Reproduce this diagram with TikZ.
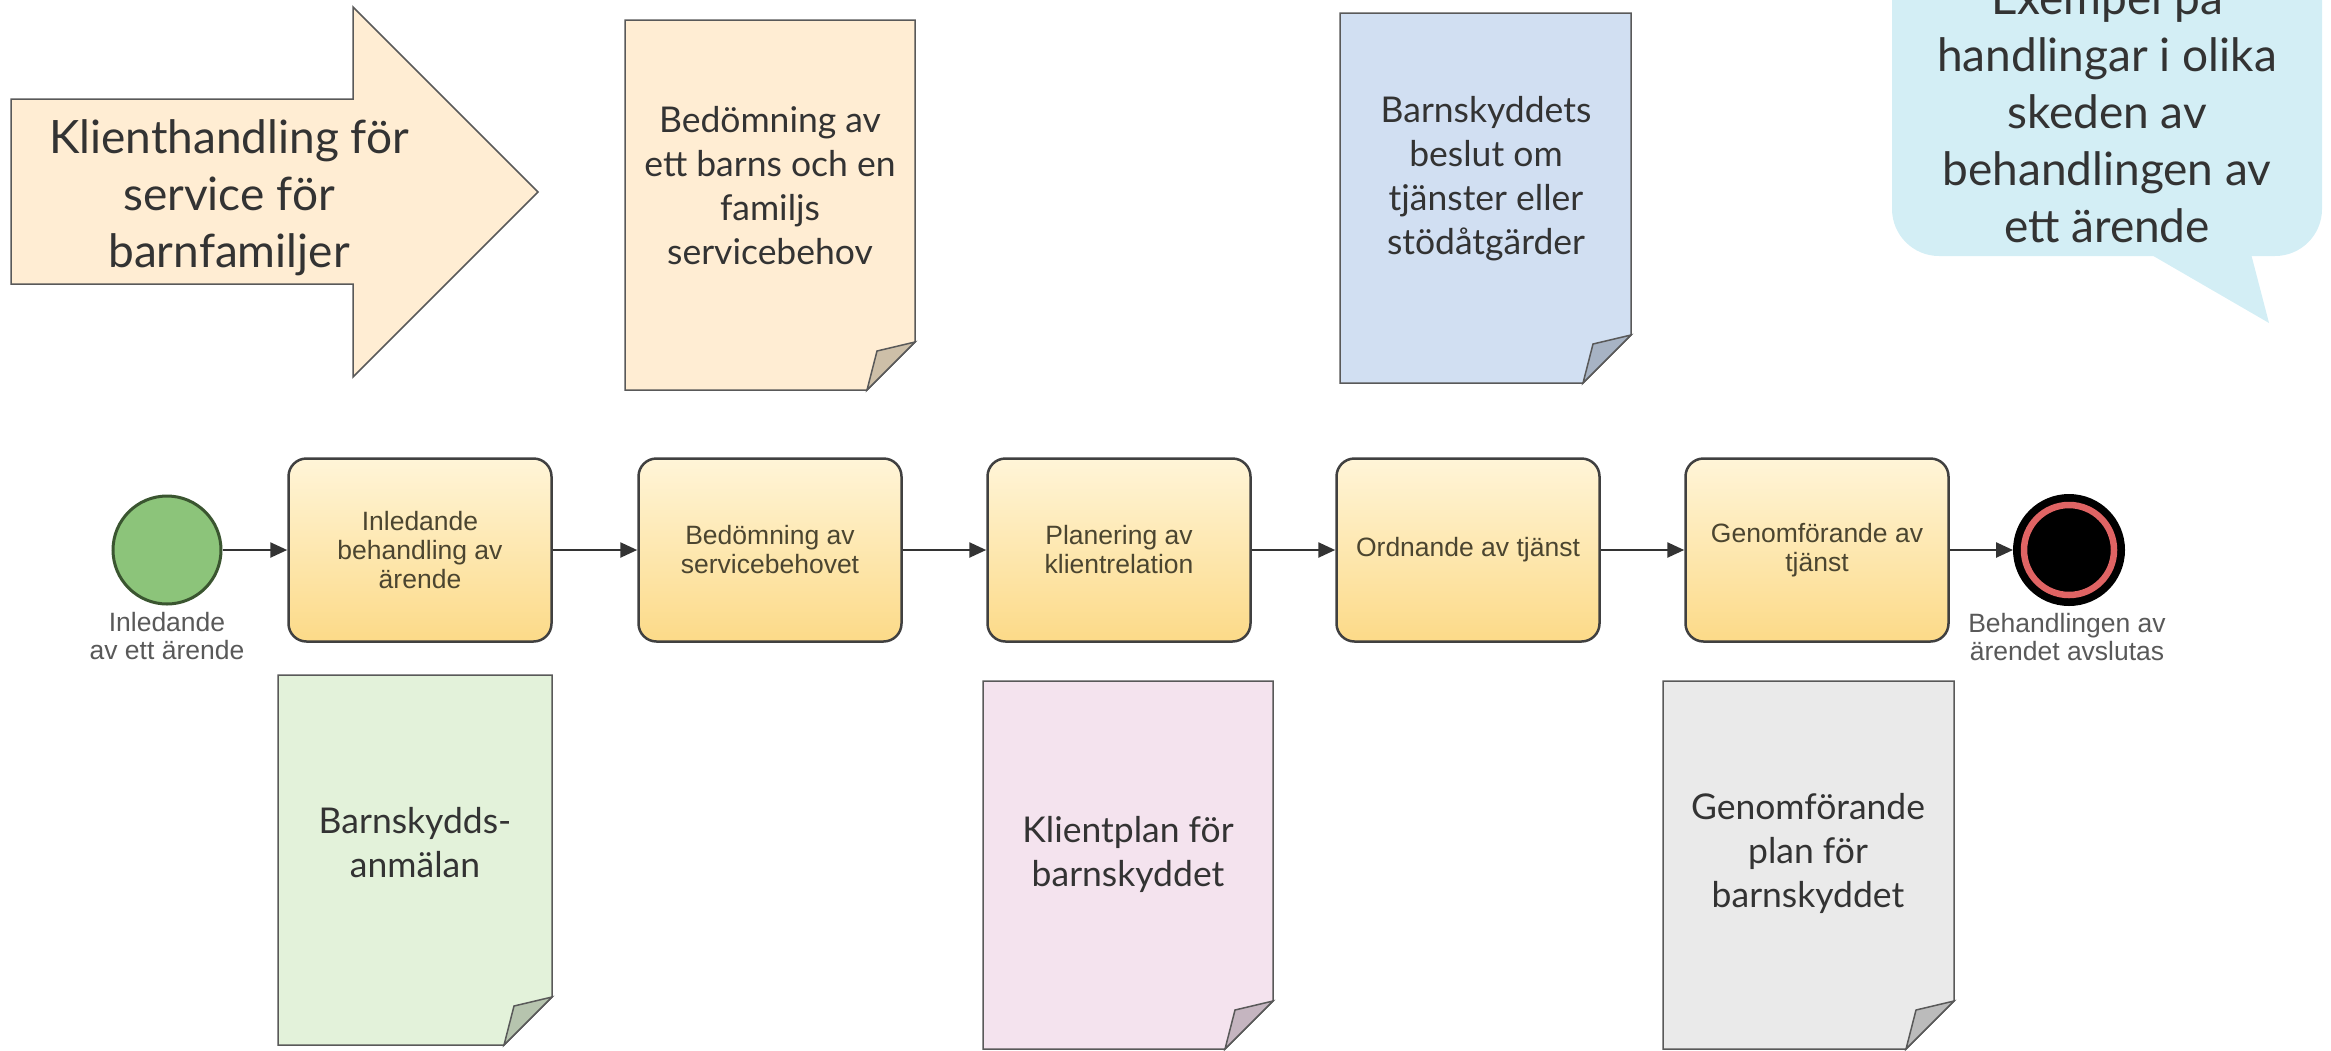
\documentclass[tikz,border=0pt]{standalone}
\usepackage{fontspec}
\setmainfont{Lato}
\newfontfamily\arialfont{Liberation Sans}
\usetikzlibrary{arrows.meta,shapes.geometric}
\definecolor{peach}{HTML}{FFEDD3}
\definecolor{peachfold}{HTML}{CDBFA8}
\definecolor{bluedoc}{HTML}{D1DFF2}
\definecolor{bluefold}{HTML}{A7B3C4}
\definecolor{greendoc}{HTML}{E3F2DA}
\definecolor{greenfold}{HTML}{B6C4AE}
\definecolor{pinkdoc}{HTML}{F4E3EE}
\definecolor{pinkfold}{HTML}{C5B5C0}
\definecolor{graydoc}{HTML}{EAEAEA}
\definecolor{grayfold}{HTML}{BBBBBB}
\definecolor{callout}{HTML}{D3EEF5}
\definecolor{boxtop}{HTML}{FFF5D8}
\definecolor{boxbot}{HTML}{FCDA88}
\definecolor{boxtext}{HTML}{4B4530}
\definecolor{txt}{HTML}{333333}
\definecolor{startgreen}{HTML}{8CC47A}
\definecolor{startdark}{HTML}{3A5530}
\definecolor{endred}{HTML}{E06464}
\newcommand{\mydoc}[6]{%
  \draw[docline, fill=#5] (#1,#2) -- (#3,#2) -- (#3,#4-48) -- (#3-48,#4) -- (#1,#4) -- cycle;
  \draw[docline, fill=#6] (#3,#4-48) -- (#3-38,#4-39) -- (#3-48,#4) -- cycle;
}
\begin{document}
\begin{tikzpicture}[x=1pt,y=-1pt,
  docline/.style={draw=black!65, line width=1.5pt, line join=miter},
  doctxt/.style={font=\fontsize{35.5}{44}\selectfont, text=txt, align=center, inner sep=0pt},
  bigtxt/.style={font=\fontsize{46}{57}\selectfont, text=txt, align=center, inner sep=0pt},
  procbox/.style={draw=black!75, line width=2.5pt, rounded corners=18pt,
    minimum width=263pt, minimum height=183pt, top color=boxtop, bottom color=boxbot,
    align=center, font=\arialfont\fontsize{26.5}{29}\selectfont, text=boxtext, inner sep=0pt},
  lbl/.style={font=\arialfont\fontsize{26.5}{27.5}\selectfont, text=black!65, align=center, inner sep=0pt},
  flow/.style={draw=black!80, line width=2.5pt, -{Triangle[length=17pt,width=15pt]}}
]
\useasboundingbox (0,0) rectangle (2331,1050);
\begin{scope}
\clip (0,0) rectangle (2331,1050);
% big arrow
\draw[docline, fill=peach] (11,99) -- (353,99) -- (353,7) -- (538,192) -- (353,377) -- (353,284) -- (11,284) -- cycle;
\node[bigtxt] (arrowtxt) at (229,198) {Klienthandling för\\service för\\barnfamiljer};
% callout
\fill[callout, rounded corners=47pt] (1892,-200) rectangle (2322,256);
\fill[callout] (2143,250) -- (2269,323) -- (2250,250) -- cycle;
\node[bigtxt] (callouttxt) at (2107,111) {Exempel på\\handlingar i olika\\skeden av\\behandlingen av\\ett ärende};
% documents
\mydoc{625}{20}{915}{390}{peach}{peachfold}
\node[doctxt] (d1) at (770,186) {Bedömning av\\ett barns och en\\familjs\\servicebehov};
\mydoc{1340}{13}{1631}{383}{bluedoc}{bluefold}
\node[doctxt] (d2) at (1486,179) {Barnskyddets\\beslut om\\tjänster eller\\stödåtgärder};
\mydoc{278}{675}{552}{1045}{greendoc}{greenfold}
\node[doctxt] (d3) at (415,843) {Barnskydds-\\anmälan};
\mydoc{983}{681}{1273}{1049}{pinkdoc}{pinkfold}
\node[doctxt] (d4) at (1128,854) {Klientplan för\\barnskyddet};
\mydoc{1663}{681}{1954}{1049}{graydoc}{grayfold}
\node[doctxt] (d5) at (1808,853) {Genomförande\\plan för\\barnskyddet};
% process
\node[circle, draw=startdark, line width=3pt, fill=startgreen, minimum size=108pt, inner sep=0pt] (start) at (167,550) {};
\node[lbl] (startlbl) at (167,636) {Inledande\\av ett ärende};
\node[procbox] (b1) at (420,550) {Inledande\\behandling av\\ärende};
\node[procbox] (b2) at (770,550) {Bedömning av\\servicebehovet};
\node[procbox] (b3) at (1119,550) {Planering av\\klientrelation};
\node[procbox] (b4) at (1468,550) {Ordnande av tjänst};
\node[procbox] (b5) at (1817,550) {Genomförande av\\tjänst};
\node[circle, draw=black, line width=8pt, fill=black, minimum size=104pt, inner sep=0pt] (end) at (2069,550) {};
\draw[endred, line width=6.5pt] (end.center) circle (45pt);
\node[lbl] (endlbl) at (2067,637) {Behandlingen av\\ärendet avslutas};
\draw[flow] (start) -- (b1);
\draw[flow] (b1) -- (b2);
\draw[flow] (b2) -- (b3);
\draw[flow] (b3) -- (b4);
\draw[flow] (b4) -- (b5);
\draw[flow] (b5) -- (end);
\end{scope}
\end{tikzpicture}
\end{document}
